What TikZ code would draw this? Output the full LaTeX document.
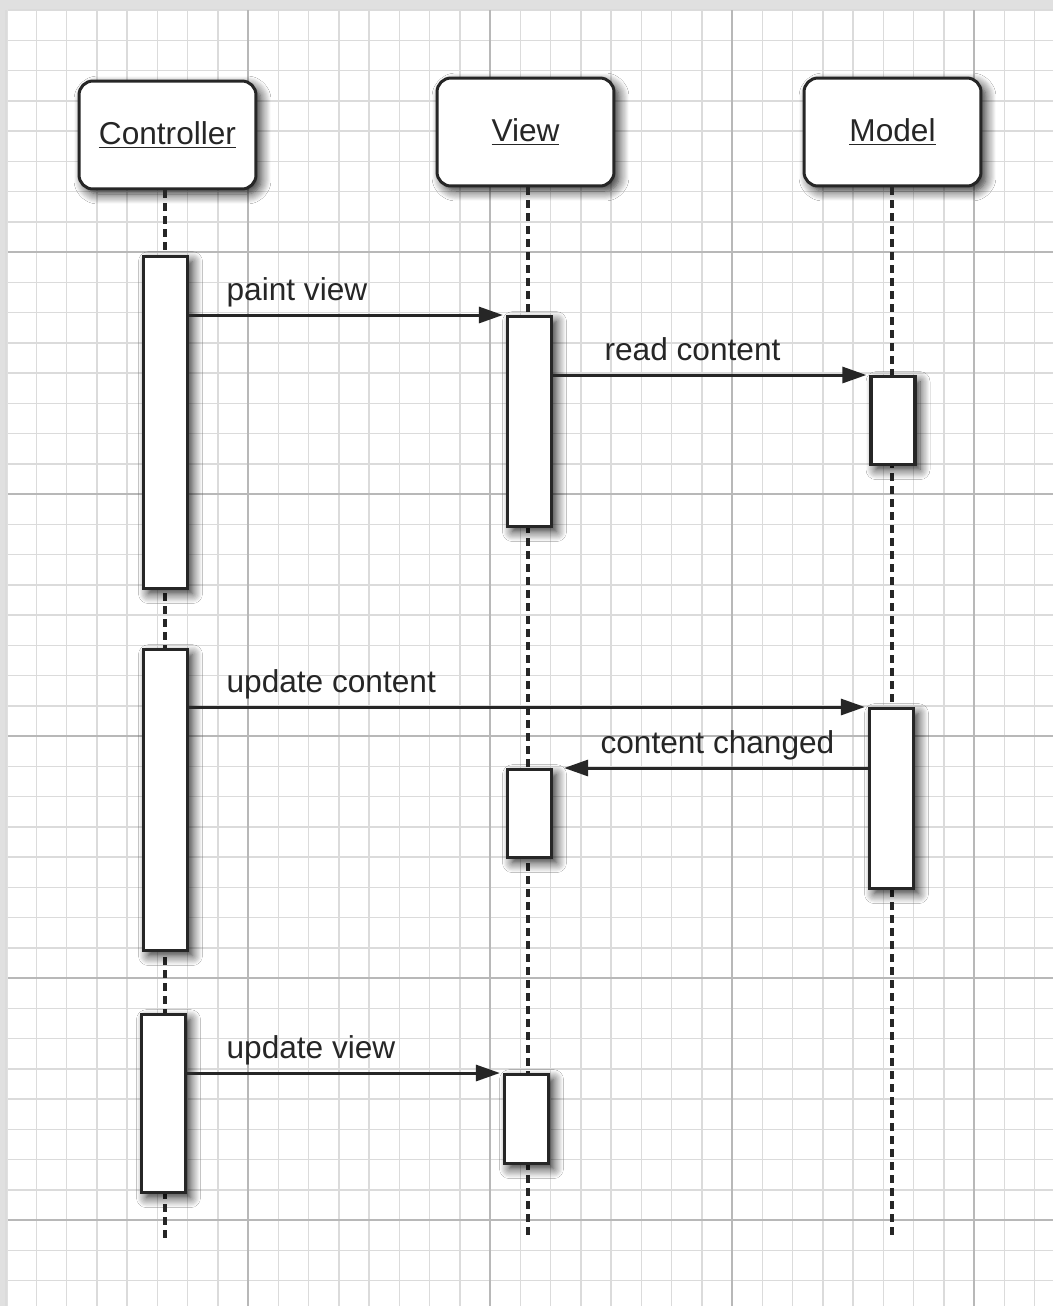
\documentclass[tikz,border=0pt]{standalone}
\usepackage{fontspec}
\setmainfont{Liberation Sans}
\usetikzlibrary{arrows.meta,shadows.blur}

\begin{document}
\begin{tikzpicture}[x=0.02cm, y=-0.02cm,
    font=\fontsize{18}{21}\selectfont, text=black!85,
    minorline/.style={black!14, line width=0.03cm},
    majorline/.style={black!28, line width=0.04cm},
    shad/.style={blur shadow={shadow xshift=0.1cm, shadow yshift=-0.1cm,
        shadow blur radius=0.2cm, shadow blur steps=10, shadow opacity=85}},
    head/.style={draw=black!85, line width=0.06cm, rounded corners=0.28cm, fill=white,
        minimum width=3.54cm, minimum height=2.16cm, shad},
    act/.style={draw=black!85, line width=0.065cm, fill=white, minimum width=0.88cm,
        inner sep=0pt, anchor=north, shad},
    life/.style={black!85, line width=0.07cm, dash pattern=on 0.16cm off 0.1cm},
    msg/.style={draw=black!85, line width=0.06cm, -{Triangle[length=0.48cm,width=0.32cm]},
        shorten >=0.06cm},
    lbl/.style={anchor=base west, inner sep=0pt, yshift=0.3cm}]

      \useasboundingbox (0,0) rectangle (1053,1306);

      % paper and grid
      \fill[black!12] (0,0) rectangle (1053,1306);
      \fill[white] (8,10) rectangle (1053,1306);
      \foreach \k in {0,...,34}
        \draw[minorline] ({6+30.25*\k},10) -- ({6+30.25*\k},1306);
      \foreach \k in {0,...,42}
        \draw[minorline] (8,{10+30.25*\k}) -- (1053,{10+30.25*\k});
      \foreach \k in {1,...,4}
        \draw[majorline] ({6+242*\k},10) -- ({6+242*\k},1306);
      \foreach \k in {1,...,5}
        \draw[majorline] (8,{10+242*\k}) -- (1053,{10+242*\k});

      % objects
      \node[head] (ctrl)  at (167.5,135) {\underline{Controller}};
      \node[head] (view)  at (525.5,132) {\underline{View}};
      \node[head] (model) at (892.5,132) {\underline{Model}};

      % lifelines
      \coordinate (cend) at (165,1238);
      \coordinate (vend) at (528,1238);
      \coordinate (mend) at (892,1238);
      \draw[life] (ctrl.south -| cend)  -- (cend);
      \draw[life] (view.south -| vend)  -- (vend);
      \draw[life] (model.south -| mend) -- (mend);

      % activations
      \node[act, minimum height=6.64cm] (c1) at (165.5,255)  {};
      \node[act, minimum height=6.02cm] (c2) at (165.5,648)  {};
      \node[act, minimum height=3.56cm] (c3) at (163.5,1013) {};
      \node[act, minimum height=4.2cm]  (v1) at (529.5,315)  {};
      \node[act, minimum height=1.76cm] (v2) at (529.5,768)  {};
      \node[act, minimum height=1.78cm] (v3) at (526.5,1073) {};
      \node[act, minimum height=1.76cm] (m1) at (893,375)    {};
      \node[act, minimum height=3.6cm]  (m2) at (891.5,707)  {};

      % messages
      \draw[msg] (c1.east |- v1.north west) -- node[lbl, pos=0, xshift=0.72cm] {paint view} (v1.north west);
      \draw[msg] (v1.east |- m1.north west) -- node[lbl, pos=0, xshift=1.0cm] {read content} (m1.north west);
      \draw[msg] (c2.east |- m2.north west) -- node[lbl, pos=0, xshift=0.72cm] {update content} (m2.north west);
      \draw[msg, shorten >=0.22cm] (m2.west |- v2.north east) -- node[lbl, pos=0, anchor=base east, xshift=-0.64cm] {content changed} (v2.north east);
      \draw[msg] (c3.east |- v3.north west) -- node[lbl, pos=0, xshift=0.76cm] {update view} (v3.north west);

\end{tikzpicture}
\end{document}
